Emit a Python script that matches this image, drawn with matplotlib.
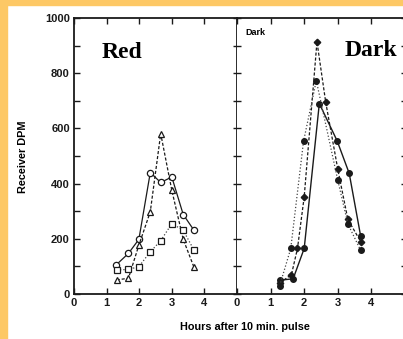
import matplotlib
matplotlib.use("Agg")
from matplotlib import pyplot as plt
from matplotlib.patches import Rectangle

# Red panel (open markers)
red_circle_x = [1.29, 1.67, 1.99, 2.34, 2.66, 3.0, 3.35, 3.68]
red_circle_y = [105, 147, 198, 440, 404, 424, 288, 231]
red_square_x = [1.31, 1.67, 1.99, 2.34, 2.66, 3.0, 3.35, 3.68]
red_square_y = [87, 89, 99, 153, 193, 255, 231, 159]
red_tri_x = [1.31, 1.67, 1.99, 2.34, 2.66, 3.0, 3.35, 3.68]
red_tri_y = [51, 57, 177, 298, 581, 376, 198, 97]

# Dark panel (filled markers)
dark_solid_x = [1.27, 1.67, 2.0, 2.45, 2.98, 3.34, 3.68]
dark_solid_y = [50, 55, 165, 690, 555, 437, 210]
dark_dash_x = [1.27, 1.62, 1.8, 2.0, 2.38, 2.64, 3.0, 3.3, 3.68]
dark_dash_y = [40, 70, 165, 352, 914, 695, 452, 270, 190]
dark_dot_x = [1.27, 1.6, 1.98, 2.36, 3.0, 3.3, 3.68]
dark_dot_y = [30, 165, 553, 773, 412, 254, 158]

yticks_major = [0, 200, 400, 600, 800, 1000]
xticks = [0, 1, 2, 3, 4]

W, H = 403, 339
fig = plt.figure(figsize=(W / 100, H / 100), dpi=100)
fig.patch.set_facecolor("white")
orange = "#FDC865"
fig.patches.append(Rectangle((0, 0), 7 / W, 1, transform=fig.transFigure, color=orange, zorder=0))
fig.patches.append(Rectangle((0, 1 - 5 / H), 1, 5 / H, transform=fig.transFigure, color=orange, zorder=0))

bottom = (H - 294) / H
height = (294 - 18) / H
ax1 = fig.add_axes([74 / W, bottom, (237 - 74) / W, height])
ax2 = fig.add_axes([237 / W, bottom, (405 - 237) / W, height])

ink = "#1a1a1a"
tick_font = dict(fontsize=8, fontweight="bold", family="Liberation Sans")

for ax in (ax1, ax2):
    ax.set_xlim(0, 5)
    ax.set_ylim(0, 1000)
    ax.set_xticks(xticks)
    ax.set_xticklabels([str(t) for t in xticks], **tick_font)
    ax.set_yticks(list(range(0, 1001, 100)), minor=True)
    ax.set_yticks(yticks_major)
    for s in ax.spines.values():
        s.set_linewidth(1.3)
        s.set_color(ink)
    ax.tick_params(axis="both", which="both", direction="in", length=4, width=1, colors=ink,
                   top=True, right=True, pad=3)

ax1.set_yticklabels([str(t) for t in yticks_major], **tick_font)
ax1.tick_params(axis="y", which="both", right=False)
ax2.spines["right"].set_visible(False)
ax2.spines["left"].set_visible(False)
ax2.tick_params(axis="y", which="both", left=True, labelleft=False, direction="inout", length=6)

ms = 4.5
ax1.plot(red_circle_x, red_circle_y, "-", color=ink, lw=0.9, marker="o", ms=ms,
         mfc="white", mec=ink, mew=0.9)
ax1.plot(red_tri_x, red_tri_y, "--", color=ink, lw=0.9, dashes=(2.5, 1.5), marker="^", ms=ms,
         mfc="white", mec=ink, mew=0.9)
ax1.plot(red_square_x, red_square_y, ":", color="#444444", lw=0.9, marker="s", ms=ms,
         mfc="white", mec=ink, mew=0.9)

ax2.plot(dark_solid_x, dark_solid_y, "-", color=ink, lw=1.0, marker="o", ms=4, mfc=ink, mec=ink)
ax2.plot(dark_dash_x, dark_dash_y, "--", color=ink, lw=0.9, dashes=(2.5, 1.5), marker="D", ms=3.3,
         mfc=ink, mec=ink)
ax2.plot(dark_dot_x, dark_dot_y, ":", color="#444444", lw=0.9, marker="o", ms=4, mfc=ink, mec=ink)

fig.text(122 / W, 1 - 52 / H, "Red", fontsize=17, fontweight="bold", family="Liberation Serif",
         ha="center", va="center")
fig.text(371 / W, 1 - 51 / H, "Dark", fontsize=17, fontweight="bold", family="Liberation Serif",
         ha="center", va="center")
fig.text(245 / W, 1 - 32.5 / H, "Dark", fontsize=6.5, fontweight="bold", family="Liberation Sans",
         ha="left", va="center")
fig.text(23 / W, 1 - 157 / H, "Receiver DPM", rotation=90, fontsize=7.8, fontweight="bold",
         family="Liberation Sans", ha="center", va="center")
fig.text(245 / W, 1 - 327 / H, "Hours after 10 min. pulse", fontsize=7.8, fontweight="bold",
         family="Liberation Sans", ha="center", va="center")

plt.savefig("out.png", dpi=100)
plt.close()
